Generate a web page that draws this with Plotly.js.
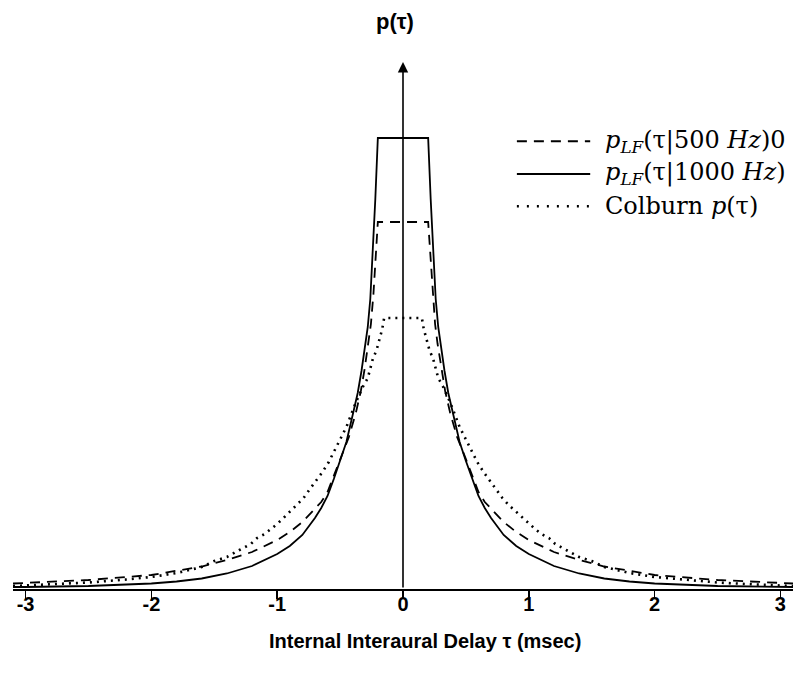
<!DOCTYPE html>
<html>
<head>
<meta charset="utf-8">
<script src="https://cdn.plot.ly/plotly-3.0.1.min.js"></script>
<style>html,body{margin:0;padding:0;background:#fff;}#chart{width:796px;height:681px;}</style>
</head>
<body>
<div id="chart"></div>
<script>
// Internal interaural delay tau (msec)
const tau1000 = [-3.1,-3.0,-2.5,-2.0,-1.8,-1.6,-1.4,-1.2,-1.0,-0.9,-0.8,-0.7,-0.65,-0.6,-0.55,-0.5,-0.45,-0.4,-0.36,-0.33,-0.3,-0.28,-0.26,-0.24,-0.22,-0.2,
                 0.2,0.22,0.24,0.26,0.28,0.3,0.33,0.36,0.4,0.45,0.5,0.55,0.6,0.65,0.7,0.8,0.9,1.0,1.2,1.4,1.6,1.8,2.0,2.5,3.0,3.1];
const p1000   = [0.02,0.02,0.03,0.055,0.075,0.105,0.155,0.23,0.35,0.43,0.54,0.71,0.81,0.93,1.10,1.28,1.47,1.74,1.96,2.18,2.43,2.62,2.90,3.35,3.90,4.51,
                 4.51,3.90,3.35,2.90,2.62,2.43,2.18,1.96,1.74,1.47,1.28,1.10,0.93,0.81,0.71,0.54,0.43,0.35,0.23,0.155,0.105,0.075,0.055,0.03,0.02,0.02];

const tau500 = [-3.1,-3.0,-2.5,-2.0,-1.8,-1.6,-1.4,-1.2,-1.0,-0.9,-0.8,-0.7,-0.65,-0.6,-0.55,-0.5,-0.43,-0.375,-0.335,-0.305,-0.275,-0.255,-0.235,-0.215,-0.2,
                0.2,0.215,0.235,0.255,0.275,0.305,0.335,0.375,0.43,0.5,0.55,0.6,0.65,0.7,0.8,0.9,1.0,1.2,1.4,1.6,1.8,2.0,2.5,3.0,3.1];
const p500   = [0.055,0.06,0.09,0.14,0.18,0.225,0.29,0.37,0.49,0.57,0.67,0.80,0.87,0.97,1.13,1.30,1.52,1.76,1.98,2.20,2.45,2.65,2.95,3.38,3.67,
                3.67,3.38,2.95,2.65,2.45,2.20,1.98,1.76,1.52,1.30,1.13,0.97,0.87,0.80,0.67,0.57,0.49,0.37,0.29,0.225,0.18,0.14,0.09,0.06,0.055];

const tauColburn = [-3.1,-2.8,-2.5,-2.2,-2.0,-1.8,-1.7,-1.6,-1.5,-1.4,-1.3,-1.21,-1.16,-1.1,-1.05,-1.0,-0.95,-0.9,-0.84,-0.79,-0.74,-0.69,-0.64,-0.59,-0.52,-0.45,-0.38,-0.32,-0.28,-0.26,-0.24,-0.21,-0.19,-0.165,-0.15,
                    0.15,0.165,0.19,0.21,0.24,0.26,0.28,0.32,0.38,0.45,0.52,0.59,0.64,0.69,0.74,0.79,0.84,0.9,0.95,1.0,1.05,1.1,1.16,1.21,1.3,1.4,1.5,1.6,1.7,1.8,2.0,2.2,2.5,2.8,3.1];
const pColburn   = [0.03,0.045,0.065,0.095,0.12,0.16,0.19,0.22,0.28,0.32,0.39,0.45,0.51,0.55,0.60,0.65,0.71,0.77,0.84,0.91,1.00,1.08,1.17,1.27,1.45,1.62,1.85,2.02,2.11,2.20,2.30,2.39,2.49,2.60,2.71,
                    2.71,2.60,2.49,2.39,2.30,2.20,2.11,2.02,1.85,1.62,1.45,1.27,1.17,1.08,1.00,0.91,0.84,0.77,0.71,0.65,0.60,0.55,0.51,0.45,0.39,0.32,0.28,0.22,0.19,0.16,0.12,0.095,0.065,0.045,0.03];

const xTicks = [-3,-2,-1,0,1,2,3];
const xTickText = ['-3','-2','-1','0','1','2','3'];
const xTitle = 'Internal Interaural Delay τ (msec)';
const yTitle = 'p(τ)';
const legendLabels = [
  '<i>p</i><sub><i>LF</i></sub>(τ|500 <i>Hz</i>)0',
  '<i>p</i><sub><i>LF</i></sub>(τ|1000 <i>Hz</i>)',
  'Colburn <i>p</i>(τ)'
];
const legendDash = ['10px,7px','solid','2px,5px'];

const traces = [
  {x: tau500, y: p500, mode:'lines', line:{color:'#000', width:1.8, dash:legendDash[0]}, name: legendLabels[0], hoverinfo:'skip'},
  {x: tau1000, y: p1000, mode:'lines', line:{color:'#000', width:1.8}, name: legendLabels[1], hoverinfo:'skip'},
  {x: tauColburn, y: pColburn, mode:'lines', line:{color:'#000', width:2.6, dash:legendDash[2]}, name: legendLabels[2], hoverinfo:'skip'}
];

const sans = 'Liberation Sans, Arial, sans-serif';
// legend geometry (paper coordinates)
const rowY = [0.848, 0.786, 0.725];
const shapes = [];
const annotations = [];
for (let i = 0; i < 3; i++) {
  shapes.push({type:'line', xref:'paper', yref:'paper', x0:0.646, x1:0.740, y0:rowY[i], y1:rowY[i],
    line:{color:'#000', width: i===2 ? 2.6 : 1.8, dash: i===2 ? '2px,8px' : legendDash[i]}});
  annotations.push({xref:'paper', yref:'paper', x:0.756, y:rowY[i], xanchor:'left', yanchor:'middle',
    text: legendLabels[i], showarrow:false, font:{family:'DejaVu Serif, Liberation Serif, serif', size:24, color:'#000'}});
}
// vertical axis arrow
annotations.push({x:0, y:5.27, ax:0, ay:0, xref:'x', yref:'y', axref:'x', ayref:'y', text:'', showarrow:true,
  arrowhead:2, arrowsize:1.3, arrowwidth:1.6, arrowcolor:'#000'});
annotations.push({xref:'paper', yref:'paper', x:0.49, y:1.075, xanchor:'center', yanchor:'middle', text:yTitle, showarrow:false,
  font:{family:sans, size:22, color:'#000', weight:'bold'}});
// x-axis title (placed slightly right of centre, as in the original)
annotations.push({xref:'paper', yref:'paper', x:0.528, y:-0.098, xanchor:'center', yanchor:'middle', text:xTitle, showarrow:false,
  font:{family:sans, size:20, color:'#000', weight:'bold'}});

const layout = {
  width:796, height:681,
  margin:{l:13, r:3, t:61, b:92},
  paper_bgcolor:'#fff', plot_bgcolor:'#fff',
  showlegend:false,
  xaxis:{range:[-3.1,3.1], showgrid:false, zeroline:false, showline:true, linecolor:'#000', linewidth:2,
    ticks:'outside', ticklen:8, tickwidth:1.5, tickcolor:'#000', tickvals:xTicks, ticktext:xTickText,
    ticklabelstandoff:-12,
    tickfont:{family:sans, size:20, color:'#000', weight:'bold'}},
  yaxis:{range:[0,5.28], showgrid:false, zeroline:false, showline:false, showticklabels:false, ticks:''},
  shapes: shapes,
  annotations: annotations
};

Plotly.newPlot('chart', traces, layout, {staticPlot:true});
</script>
</body>
</html>
